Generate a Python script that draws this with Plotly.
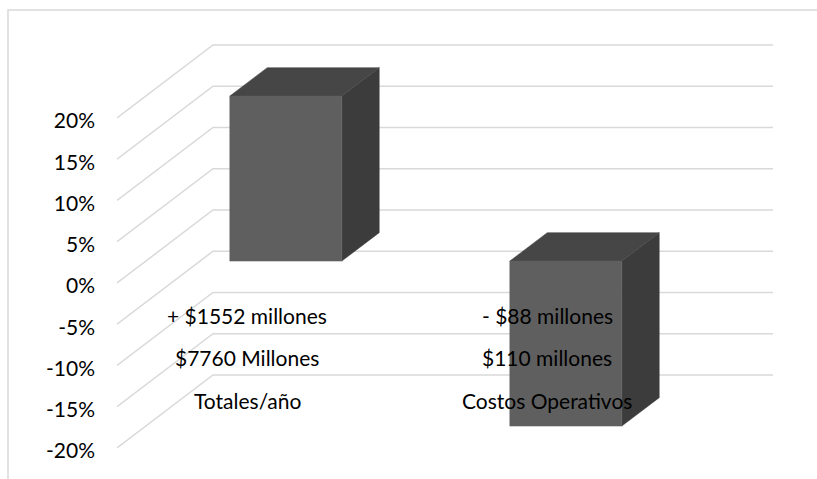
import plotly.graph_objects as go

# ---- data ----
categories = ["Totales/año", "Costos Operativos"]
level2_labels = ["$7760 Millones", "$110 millones"]
level1_labels = ["+ $1552 millones", "- $88 millones"]
values = [20, -20]  # percent
tick_values = [20, 15, 10, 5, 0, -5, -10, -15, -20]
tick_labels = [f"{t}%" for t in tick_values]

# ---- 3D oblique projection settings (style) ----
DX = 96 / 280.0      # horizontal shift (category units) for full depth
DY = 73 / 8.25       # vertical shift (value units) for full depth
BAR_HALF = 0.2       # half bar width in category units
Z_FRONT, Z_BACK = 0.30, 0.69
FONT = "Lato"
FS = 21

def proj(x, v, z):
    return x + z * DX, v + z * DY

fig = go.Figure()

# gridlines: side wall diagonal + back wall horizontal
n = len(categories)
for t in tick_values:
    pts = [proj(0, t, 0), proj(0, t, 1), proj(n, t, 1)]
    fig.add_trace(go.Scatter(
        x=[p[0] for p in pts], y=[p[1] for p in pts], mode="lines",
        line=dict(color="#d9d9d9", width=1.5), hoverinfo="skip"))

FRONT_C, TOP_C, SIDE_C = "#5f5f5f", "#464646", "#3c3c3c"

def poly(points, color):
    xs = [p[0] for p in points] + [points[0][0]]
    ys = [p[1] for p in points] + [points[0][1]]
    fig.add_trace(go.Scatter(x=xs, y=ys, mode="lines", fill="toself",
                             fillcolor=color, line=dict(color=color, width=0.5),
                             hoverinfo="skip"))

for i, val in enumerate(values):
    c = i + 0.5
    x0, x1 = c - BAR_HALF, c + BAR_HALF
    lo, hi = min(0, val), max(0, val)
    front = [proj(x0, lo, Z_FRONT), proj(x1, lo, Z_FRONT), proj(x1, hi, Z_FRONT), proj(x0, hi, Z_FRONT)]
    top = [proj(x0, hi, Z_FRONT), proj(x1, hi, Z_FRONT), proj(x1, hi, Z_BACK), proj(x0, hi, Z_BACK)]
    side = [proj(x1, lo, Z_FRONT), proj(x1, lo, Z_BACK), proj(x1, hi, Z_BACK), proj(x1, hi, Z_FRONT)]
    poly(side, SIDE_C)
    poly(top, TOP_C)
    poly(front, FRONT_C)

# multi-level category labels
ROW0, ROW_STEP = -3.9, 5.15
for i in range(n):
    for r, lab in enumerate([level1_labels[i], level2_labels[i], categories[i]]):
        fig.add_annotation(x=i + 0.5, y=ROW0 - r * ROW_STEP, text=lab, showarrow=False,
                           xshift=(i - 0.5) * 20,
                           font=dict(family=FONT, size=FS, color="black"))

# chart area border
fig.add_shape(type="rect", xref="paper", yref="paper",
              x0=(8 - 117) / 700, x1=1.02, y0=-0.02, y1=1 - 10 / 479,
              line=dict(color="#d9d9d9", width=1.5), fillcolor="rgba(0,0,0,0)", layer="below")

fig.update_layout(
    width=817, height=479,
    margin=dict(l=117, r=0, t=0, b=0),
    paper_bgcolor="white", plot_bgcolor="white",
    showlegend=False, hovermode=False,
    xaxis=dict(range=[0, 2.5], visible=False, fixedrange=True),
    yaxis=dict(range=[(283 - 479) / 8.25, 283 / 8.25], tickvals=tick_values, ticktext=tick_labels,
               showgrid=False, zeroline=False, showline=False, ticks="",
               ticklabelstandoff=21, ticklabelshift=3, fixedrange=True,
               tickfont=dict(family=FONT, size=FS, color="black")),
)

fig.write_html("out.html")
